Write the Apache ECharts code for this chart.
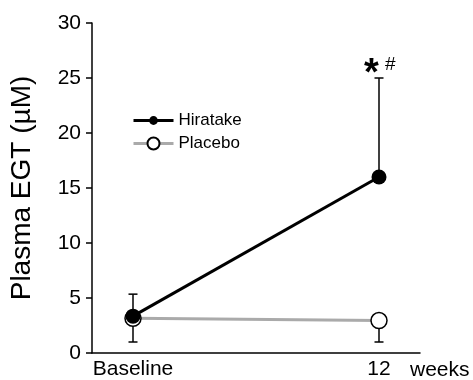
<!DOCTYPE html>
<html>
<head>
<meta charset="utf-8">
<script src="https://cdn.jsdelivr.net/npm/echarts@6/dist/echarts.min.js"></script>
<style>
  html, body { margin: 0; padding: 0; background: #fff; }
  #chart { width: 473px; height: 380px; }
</style>
</head>
<body>
<div id="chart"></div>
<script>
// time points (weeks): baseline = 0
var weeks = [0, 12]
var hiratake = [3.35, 16]
var hiratakeUpper = [5.35, 25]
var placebo = [3.15, 2.95]
var placeboLower = [1.0, 1.0]
var yTicks = { min: 0, max: 30, step: 5 }

var font = 'Liberation Sans, Arial, sans-serif'

function errData(xs, mid, end) {
  return xs.map(function (x, i) { return [x, mid[i], end[i]] })
}

function renderErr(params, api) {
  var p0 = api.coord([api.value(0), api.value(1)])
  var p1 = api.coord([api.value(0), api.value(2)])
  var cap = 4.5
  return {
    type: 'group',
    children: [
      { type: 'line', shape: { x1: p0[0], y1: p0[1], x2: p1[0], y2: p1[1] }, style: { stroke: '#000', lineWidth: 1.5 } },
      { type: 'line', shape: { x1: p1[0] - cap, y1: p1[1], x2: p1[0] + cap, y2: p1[1] }, style: { stroke: '#000', lineWidth: 1.5 } }
    ]
  }
}

var chart = echarts.init(document.getElementById('chart'))
var option = {
  animation: false,
  textStyle: { fontFamily: font },
  grid: { left: 90, right: 53, top: 23, bottom: 24, containLabel: false },
  legend: [
    {
      data: ['Hiratake'], left: 132, top: 112, padding: 0,
      itemWidth: 40, itemHeight: 11,
      lineStyle: { width: 3 },
      textStyle: { fontSize: 17, color: '#000', fontFamily: font }
    },
    {
      data: ['Placebo'], left: 132, top: 135, padding: 0,
      itemWidth: 40, itemHeight: 15,
      lineStyle: { width: 3 },
      textStyle: { fontSize: 17, color: '#000', fontFamily: font }
    }
  ],
  xAxis: {
    type: 'value', min: -2, max: 14, interval: 2,
    splitLine: { show: false },
    axisTick: { show: false },
    axisLine: { show: true, onZero: false, lineStyle: { color: '#000', width: 1.5 } },
    axisLabel: {
      color: '#000', fontSize: 21, margin: 6, fontFamily: font,
      formatter: function (v) { return v === 0 ? 'Baseline' : (v === 12 ? '12' : '') }
    }
  },
  yAxis: {
    type: 'value', min: yTicks.min, max: yTicks.max, interval: yTicks.step,
    name: 'Plasma EGT (\u00b5M)', nameLocation: 'middle', nameGap: 56,
    nameTextStyle: { fontSize: 28, color: '#000', fontFamily: font },
    splitLine: { show: false },
    axisLine: { show: true, onZero: false, lineStyle: { color: '#000', width: 1.5 } },
    axisTick: { show: true, length: 6, lineStyle: { color: '#000', width: 1.5 } },
    axisLabel: { color: '#000', fontSize: 21, margin: 11, fontFamily: font }
  },
  graphic: [
    { type: 'text', left: 410, top: 360, style: { text: 'weeks', fontSize: 21, fill: '#000', fontFamily: font } },
    { type: 'text', left: 364, top: 56, style: { text: '*', fontSize: 38, fontWeight: 'bold', fill: '#000', fontFamily: font } },
    { type: 'text', left: 385, top: 55, style: { text: '#', fontSize: 19, fill: '#000', fontFamily: font } }
  ],
  series: [
    {
      type: 'custom', name: 'errP', z: 1, silent: true,
      data: errData(weeks, placebo, placeboLower), renderItem: renderErr
    },
    {
      type: 'custom', name: 'errH', z: 1, silent: true,
      data: errData(weeks, hiratake, hiratakeUpper), renderItem: renderErr
    },
    {
      name: 'Placebo', type: 'line', z: 2,
      data: weeks.map(function (w, i) { return [w, placebo[i]] }),
      symbol: 'circle', symbolSize: 16,
      lineStyle: { color: '#aaaaaa', width: 3 },
      itemStyle: { color: '#fff', borderColor: '#000', borderWidth: 1.5 }
    },
    {
      name: 'Hiratake', type: 'line', z: 3,
      data: weeks.map(function (w, i) { return [w, hiratake[i]] }),
      symbol: 'circle', symbolSize: 15,
      lineStyle: { color: '#000', width: 3 },
      itemStyle: { color: '#000' }
    }
  ]
}
chart.setOption(option)
</script>
</body>
</html>
